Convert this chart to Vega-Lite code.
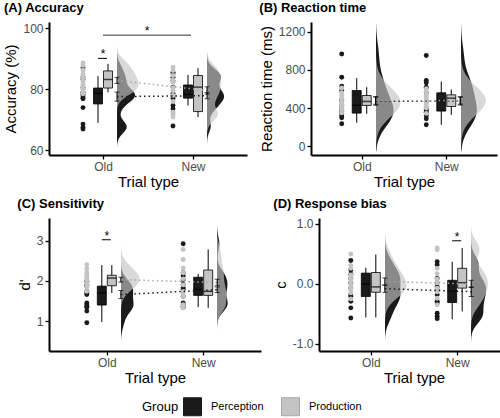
{
"$schema": "https://vega.github.io/schema/vega-lite/v6.json",
"background": "white",
"padding": {"left": 3, "top": 2, "right": 0, "bottom": 0},
"datasets": {
"pA": [
{"t":"Old","g":"Perception","v":87.0},{"t":"Old","g":"Perception","v":84.0},{"t":"Old","g":"Perception","v":83.3},{"t":"Old","g":"Perception","v":80.5},{"t":"Old","g":"Perception","v":79.0},{"t":"Old","g":"Perception","v":78.3},{"t":"Old","g":"Perception","v":77.8},{"t":"Old","g":"Perception","v":77.2},{"t":"Old","g":"Perception","v":76.9},{"t":"Old","g":"Perception","v":74.0},{"t":"Old","g":"Perception","v":68.6},{"t":"Old","g":"Perception","v":67.5},{"t":"Old","g":"Perception","v":67.0},
{"t":"Old","g":"Production","v":88.6},{"t":"Old","g":"Production","v":87.8},{"t":"Old","g":"Production","v":86.2},{"t":"Old","g":"Production","v":85.0},{"t":"Old","g":"Production","v":84.3},{"t":"Old","g":"Production","v":83.2},{"t":"Old","g":"Production","v":82.5},{"t":"Old","g":"Production","v":81.6},{"t":"Old","g":"Production","v":80.8},{"t":"Old","g":"Production","v":80.0},{"t":"Old","g":"Production","v":79.3},{"t":"Old","g":"Production","v":78.5},
{"t":"New","g":"Perception","v":85.6},{"t":"New","g":"Perception","v":85.0},{"t":"New","g":"Perception","v":83.9},{"t":"New","g":"Perception","v":82.8},{"t":"New","g":"Perception","v":80.7},{"t":"New","g":"Perception","v":78.6},{"t":"New","g":"Perception","v":78.0},{"t":"New","g":"Perception","v":77.5},{"t":"New","g":"Perception","v":76.9},{"t":"New","g":"Perception","v":74.7},{"t":"New","g":"Perception","v":73.6},{"t":"New","g":"Perception","v":68.0},
{"t":"New","g":"Production","v":87.2},{"t":"New","g":"Production","v":86.1},{"t":"New","g":"Production","v":84.5},{"t":"New","g":"Production","v":83.0},{"t":"New","g":"Production","v":82.3},{"t":"New","g":"Production","v":80.5},{"t":"New","g":"Production","v":79.5},{"t":"New","g":"Production","v":78.0},{"t":"New","g":"Production","v":76.0},{"t":"New","g":"Production","v":72.5},{"t":"New","g":"Production","v":71.8},{"t":"New","g":"Production","v":70.9}
],
"bA": [
{"t":"Old","g":"Perception","lo":69.0,"q1":75.2,"md":78.7,"q3":80.4,"hi":84.3},
{"t":"Old","g":"Production","lo":79.0,"q1":80.4,"md":83.2,"q3":86.0,"hi":88.3},
{"t":"New","g":"Perception","lo":74.7,"q1":77.1,"md":78.3,"q3":81.4,"hi":84.7},
{"t":"New","g":"Production","lo":70.9,"q1":72.7,"md":80.7,"q3":84.5,"hi":86.9}
],
"mA": [
{"t":"Old","g":"Perception","m":77.6,"lo":76.1,"hi":79.1},
{"t":"Old","g":"Production","m":82.9,"lo":81.9,"hi":83.9},
{"t":"New","g":"Perception","m":77.9,"lo":76.9,"hi":78.9},
{"t":"New","g":"Production","m":79.6,"lo":78.4,"hi":80.8}
],
"sA": [
{"k":"s","t":"Old","t2":"Old","y":90.1,"s":"*"},
{"k":"l","t":"Old","t2":"New","y":97.7,"s":"*"}
],
"pB": [
{"t":"Old","g":"Perception","v":965},{"t":"Old","g":"Perception","v":723},{"t":"Old","g":"Perception","v":630},{"t":"Old","g":"Perception","v":584},{"t":"Old","g":"Perception","v":480},{"t":"Old","g":"Perception","v":425},{"t":"Old","g":"Perception","v":392},{"t":"Old","g":"Perception","v":365},{"t":"Old","g":"Perception","v":342},{"t":"Old","g":"Perception","v":318},{"t":"Old","g":"Perception","v":300},{"t":"Old","g":"Perception","v":237},
{"t":"Old","g":"Production","v":610},{"t":"Old","g":"Production","v":560},{"t":"Old","g":"Production","v":532},{"t":"Old","g":"Production","v":500},{"t":"Old","g":"Production","v":470},{"t":"Old","g":"Production","v":455},{"t":"Old","g":"Production","v":440},{"t":"Old","g":"Production","v":425},{"t":"Old","g":"Production","v":400},{"t":"Old","g":"Production","v":380},{"t":"Old","g":"Production","v":350},
{"t":"New","g":"Perception","v":950},{"t":"New","g":"Perception","v":689},{"t":"New","g":"Perception","v":664},{"t":"New","g":"Perception","v":619},{"t":"New","g":"Perception","v":560},{"t":"New","g":"Perception","v":470},{"t":"New","g":"Perception","v":393},{"t":"New","g":"Perception","v":375},{"t":"New","g":"Perception","v":358},{"t":"New","g":"Perception","v":320},{"t":"New","g":"Perception","v":289},{"t":"New","g":"Perception","v":226},
{"t":"New","g":"Production","v":602},{"t":"New","g":"Production","v":567},{"t":"New","g":"Production","v":532},{"t":"New","g":"Production","v":510},{"t":"New","g":"Production","v":497},{"t":"New","g":"Production","v":480},{"t":"New","g":"Production","v":463},{"t":"New","g":"Production","v":440},{"t":"New","g":"Production","v":420},{"t":"New","g":"Production","v":400},{"t":"New","g":"Production","v":345}
],
"bB": [
{"t":"Old","g":"Perception","lo":247,"q1":348,"md":430,"q3":584,"hi":713},
{"t":"Old","g":"Production","lo":341,"q1":428,"md":470,"q3":532,"hi":619},
{"t":"New","g":"Perception","lo":226,"q1":369,"md":480,"q3":560,"hi":678},
{"t":"New","g":"Production","lo":330,"q1":417,"md":504,"q3":539,"hi":595}
],
"mB": [
{"t":"Old","g":"Perception","m":472,"lo":430,"hi":515},
{"t":"Old","g":"Production","m":480,"lo":440,"hi":520},
{"t":"New","g":"Perception","m":474,"lo":432,"hi":516},
{"t":"New","g":"Production","m":480,"lo":442,"hi":518}
],
"pC": [
{"t":"Old","g":"Perception","v":1.99},{"t":"Old","g":"Perception","v":1.90},{"t":"Old","g":"Perception","v":1.87},{"t":"Old","g":"Perception","v":1.74},{"t":"Old","g":"Perception","v":1.70},{"t":"Old","g":"Perception","v":1.66},{"t":"Old","g":"Perception","v":1.45},{"t":"Old","g":"Perception","v":1.41},{"t":"Old","g":"Perception","v":1.37},{"t":"Old","g":"Perception","v":1.34},{"t":"Old","g":"Perception","v":1.25},{"t":"Old","g":"Perception","v":0.96},
{"t":"Old","g":"Production","v":2.40},{"t":"Old","g":"Production","v":2.30},{"t":"Old","g":"Production","v":2.20},{"t":"Old","g":"Production","v":2.14},{"t":"Old","g":"Production","v":2.10},{"t":"Old","g":"Production","v":2.07},{"t":"Old","g":"Production","v":2.02},{"t":"Old","g":"Production","v":1.95},{"t":"Old","g":"Production","v":1.91},{"t":"Old","g":"Production","v":1.85},{"t":"Old","g":"Production","v":1.74},
{"t":"New","g":"Perception","v":2.92},{"t":"New","g":"Perception","v":2.20},{"t":"New","g":"Perception","v":2.12},{"t":"New","g":"Perception","v":2.03},{"t":"New","g":"Perception","v":1.91},{"t":"New","g":"Perception","v":1.83},{"t":"New","g":"Perception","v":1.79},{"t":"New","g":"Perception","v":1.62},{"t":"New","g":"Perception","v":1.45},{"t":"New","g":"Perception","v":1.41},{"t":"New","g":"Perception","v":1.37},{"t":"New","g":"Perception","v":1.34},
{"t":"New","g":"Production","v":2.78},{"t":"New","g":"Production","v":2.53},{"t":"New","g":"Production","v":2.32},{"t":"New","g":"Production","v":2.20},{"t":"New","g":"Production","v":2.05},{"t":"New","g":"Production","v":1.90},{"t":"New","g":"Production","v":1.74},{"t":"New","g":"Production","v":1.70},{"t":"New","g":"Production","v":1.62},{"t":"New","g":"Production","v":1.41},{"t":"New","g":"Production","v":1.37},{"t":"New","g":"Production","v":1.33}
],
"bC": [
{"t":"Old","g":"Perception","lo":0.98,"q1":1.40,"md":1.70,"q3":1.87,"hi":2.39},
{"t":"Old","g":"Production","lo":1.70,"q1":1.88,"md":2.07,"q3":2.14,"hi":2.39},
{"t":"New","g":"Perception","lo":1.35,"q1":1.64,"md":1.79,"q3":2.09,"hi":2.17},
{"t":"New","g":"Production","lo":1.33,"q1":1.64,"md":1.74,"q3":2.27,"hi":2.78}
],
"mC": [
{"t":"Old","g":"Perception","m":1.66,"lo":1.56,"hi":1.76},
{"t":"Old","g":"Production","m":2.03,"lo":1.97,"hi":2.09},
{"t":"New","g":"Perception","m":1.78,"lo":1.71,"hi":1.85},
{"t":"New","g":"Production","m":1.96,"lo":1.88,"hi":2.04}
],
"sC": [
{"k":"s","t":"Old","t2":"Old","y":3.02,"s":"*"}
],
"pD": [
{"t":"Old","g":"Perception","v":0.39},{"t":"Old","g":"Perception","v":0.23},{"t":"Old","g":"Perception","v":0.16},{"t":"Old","g":"Perception","v":0.09},{"t":"Old","g":"Perception","v":0.02},{"t":"Old","g":"Perception","v":-0.07},{"t":"Old","g":"Perception","v":-0.18},{"t":"Old","g":"Perception","v":-0.21},{"t":"Old","g":"Perception","v":-0.29},{"t":"Old","g":"Perception","v":-0.40},{"t":"Old","g":"Perception","v":-0.57},
{"t":"Old","g":"Production","v":0.50},{"t":"Old","g":"Production","v":0.31},{"t":"Old","g":"Production","v":0.26},{"t":"Old","g":"Production","v":0.15},{"t":"Old","g":"Production","v":0.09},{"t":"Old","g":"Production","v":0.04},{"t":"Old","g":"Production","v":-0.02},{"t":"Old","g":"Production","v":-0.07},{"t":"Old","g":"Production","v":-0.10},{"t":"Old","g":"Production","v":-0.15},{"t":"Old","g":"Production","v":-0.25},
{"t":"New","g":"Perception","v":0.37},{"t":"New","g":"Perception","v":0.32},{"t":"New","g":"Perception","v":0.09},{"t":"New","g":"Perception","v":0.02},{"t":"New","g":"Perception","v":-0.05},{"t":"New","g":"Perception","v":-0.10},{"t":"New","g":"Perception","v":-0.18},{"t":"New","g":"Perception","v":-0.29},{"t":"New","g":"Perception","v":-0.32},{"t":"New","g":"Perception","v":-0.49},{"t":"New","g":"Perception","v":-0.54},{"t":"New","g":"Perception","v":-0.58},
{"t":"New","g":"Production","v":0.60},{"t":"New","g":"Production","v":0.57},{"t":"New","g":"Production","v":0.26},{"t":"New","g":"Production","v":0.17},{"t":"New","g":"Production","v":0.08},{"t":"New","g":"Production","v":0.02},{"t":"New","g":"Production","v":-0.07},{"t":"New","g":"Production","v":-0.13},{"t":"New","g":"Production","v":-0.24},{"t":"New","g":"Production","v":-0.35}
],
"bD": [
{"t":"Old","g":"Perception","lo":-0.56,"q1":-0.21,"md":0.0,"q3":0.18,"hi":0.27},
{"t":"Old","g":"Production","lo":-0.56,"q1":-0.14,"md":-0.05,"q3":0.19,"hi":0.49},
{"t":"New","g":"Perception","lo":-0.59,"q1":-0.31,"md":-0.12,"q3":0.06,"hi":0.37},
{"t":"New","g":"Production","lo":-0.46,"q1":-0.07,"md":0.02,"q3":0.26,"hi":0.60}
],
"mD": [
{"t":"Old","g":"Perception","m":-0.08,"lo":-0.14,"hi":-0.02},
{"t":"Old","g":"Production","m":0.04,"lo":-0.02,"hi":0.10},
{"t":"New","g":"Perception","m":-0.13,"lo":-0.21,"hi":-0.05},
{"t":"New","g":"Production","m":0.0,"lo":-0.06,"hi":0.06}
],
"sD": [
{"k":"s","t":"New","t2":"New","y":0.72,"s":"*"}
]
},
"spacing": 8,
"vconcat": [
{"hconcat": [
{
"title": {"text": "(A) Accuracy"},
"width": 198, "height": 133,
"resolve": {"scale": {"x": "independent"}, "axis": {"x": "independent"}},
"layer": [
{
"encoding": {
"x": {"field": "d", "type": "quantitative", "scale": {"domain": [0, 0.89], "nice": false, "zero": true}, "axis": null},
"x2": {"datum": 0},
"y": {"field": "v", "type": "quantitative"},
"fill": {"field": "g", "type": "nominal"}
},
"layer": [
{"data": {"name": "pA"}, "transform": [{"filter": "datum.t=='Old' && datum.g=='Perception'"}, {"density": "v", "groupby": ["g"], "bandwidth": 2, "extent": [61, 97], "steps": 100, "as": ["v", "d"]}], "mark": {"type": "area", "orient": "horizontal", "xOffset": 68, "x2Offset": 68, "opacity": 1}},
{"data": {"name": "pA"}, "transform": [{"filter": "datum.t=='Old' && datum.g=='Production'"}, {"density": "v", "groupby": ["g"], "bandwidth": 2, "extent": [61, 97], "steps": 100, "as": ["v", "d"]}], "mark": {"type": "area", "orient": "horizontal", "xOffset": 68, "x2Offset": 68, "opacity": 0.65}},
{"data": {"name": "pA"}, "transform": [{"filter": "datum.t=='New' && datum.g=='Perception'"}, {"density": "v", "groupby": ["g"], "bandwidth": 2, "extent": [61, 97], "steps": 100, "as": ["v", "d"]}], "mark": {"type": "area", "orient": "horizontal", "xOffset": 158, "x2Offset": 158, "opacity": 1}},
{"data": {"name": "pA"}, "transform": [{"filter": "datum.t=='New' && datum.g=='Production'"}, {"density": "v", "groupby": ["g"], "bandwidth": 2, "extent": [61, 97], "steps": 100, "as": ["v", "d"]}], "mark": {"type": "area", "orient": "horizontal", "xOffset": 158, "x2Offset": 158, "opacity": 0.65}}
]
},
{
"layer": [
{"data": {"name": "pA"}, "mark": {"type": "circle", "size": 24, "xOffset": -20, "opacity": 1},
"encoding": {
"x": {"field": "t", "type": "nominal", "scale": {"type": "point", "padding": 0.6, "domain": ["Old", "New"]}, "axis": {"title": "Trial type", "labelAngle": 0}},
"y": {"field": "v", "type": "quantitative", "scale": {"domain": [58.5, 102], "nice": false, "zero": false}, "axis": {"title": "Accuracy (%)", "values": [60, 70, 80, 90, 100]}},
"fill": {"field": "g", "type": "nominal", "scale": {"domain": ["Perception", "Production"], "range": ["#1a1a1a", "#c4c4c4"]}, "legend": {"title": "Group", "orient": "none", "direction": "horizontal", "legendX": 93, "legendY": 375, "encode": {"symbols": {"update": {"stroke": {"value": "black"}, "strokeWidth": {"value": 1}, "opacity": {"value": 1}}}}}}
}},
{"data": {"name": "bA"}, "transform": [{"filter": "datum.g=='Perception'"}], "encoding": {"x": {"field": "t", "type": "nominal"}},
"layer": [
{"mark": {"type": "rule", "xOffset": -5, "color": "black", "strokeWidth": 1}, "encoding": {"y": {"field": "lo", "type": "quantitative"}, "y2": {"field": "hi"}}},
{"mark": {"type": "bar", "width": 9, "xOffset": -5, "stroke": "black", "strokeWidth": 0.8}, "encoding": {"y": {"field": "q1", "type": "quantitative"}, "y2": {"field": "q3"}, "fill": {"field": "g", "type": "nominal"}}},
{"mark": {"type": "tick", "size": 9, "thickness": 1.5, "color": "black", "xOffset": -5}, "encoding": {"y": {"field": "md", "type": "quantitative"}}}
]},
{"data": {"name": "bA"}, "transform": [{"filter": "datum.g=='Production'"}], "encoding": {"x": {"field": "t", "type": "nominal"}},
"layer": [
{"mark": {"type": "rule", "xOffset": 5, "color": "black", "strokeWidth": 1}, "encoding": {"y": {"field": "lo", "type": "quantitative"}, "y2": {"field": "hi"}}},
{"mark": {"type": "bar", "width": 9, "xOffset": 5, "stroke": "black", "strokeWidth": 0.8}, "encoding": {"y": {"field": "q1", "type": "quantitative"}, "y2": {"field": "q3"}, "fill": {"field": "g", "type": "nominal"}}},
{"mark": {"type": "tick", "size": 9, "thickness": 1.5, "color": "black", "xOffset": 5}, "encoding": {"y": {"field": "md", "type": "quantitative"}}}
]},
{"data": {"name": "mA"}, "mark": {"type": "line", "xOffset": 14, "strokeDash": [1.5, 3], "strokeWidth": 1.5}, "encoding": {"x": {"field": "t", "type": "nominal"}, "y": {"field": "m", "type": "quantitative"}, "stroke": {"field": "g", "type": "nominal", "scale": {"domain": ["Perception", "Production"], "range": ["#1a1a1a", "#a6a6a6"]}, "legend": null}}},
{"data": {"name": "mA"}, "encoding": {"x": {"field": "t", "type": "nominal"}},
"layer": [
{"mark": {"type": "rule", "xOffset": 14, "color": "black", "strokeWidth": 1}, "encoding": {"y": {"field": "lo", "type": "quantitative"}, "y2": {"field": "hi"}}},
{"mark": {"type": "tick", "xOffset": 14, "size": 5, "thickness": 1, "color": "black"}, "encoding": {"y": {"field": "lo", "type": "quantitative"}}},
{"mark": {"type": "tick", "xOffset": 14, "size": 5, "thickness": 1, "color": "black"}, "encoding": {"y": {"field": "hi", "type": "quantitative"}}}
]},
{"data": {"name": "sA"}, "transform": [{"filter": "datum.k=='s'"}], "encoding": {"x": {"field": "t", "type": "nominal"}, "y": {"field": "y", "type": "quantitative"}},
"layer": [
{"mark": {"type": "rule", "xOffset": -5, "x2Offset": 4, "color": "black", "strokeWidth": 1}, "encoding": {"x2": {"field": "t2"}}},
{"mark": {"type": "text", "baseline": "middle", "dy": -4, "fontSize": 12, "color": "black"}, "encoding": {"text": {"field": "s"}}}
]},
{"data": {"name": "sA"}, "transform": [{"filter": "datum.k=='l'"}], "encoding": {"x": {"field": "t", "type": "nominal"}, "y": {"field": "y", "type": "quantitative"}},
"layer": [
{"mark": {"type": "rule", "xOffset": 0, "x2Offset": -2, "color": "#333333", "strokeWidth": 1}, "encoding": {"x2": {"field": "t2"}}},
{"mark": {"type": "text", "baseline": "middle", "dx": 44, "dy": -4, "fontSize": 12, "color": "black"}, "encoding": {"text": {"field": "s"}}}
]}
]
}
]
},
{
"title": {"text": "(B) Reaction time"},
"width": 186, "height": 133,
"resolve": {"scale": {"x": "independent"}, "axis": {"x": "independent"}},
"layer": [
{
"encoding": {
"x": {"field": "d", "type": "quantitative", "scale": {"domain": [0, 0.02], "nice": false, "zero": true}, "axis": null},
"x2": {"datum": 0},
"y": {"field": "v", "type": "quantitative"},
"fill": {"field": "g", "type": "nominal"}
},
"layer": [
{"data": {"name": "pB"}, "transform": [{"filter": "datum.t=='Old' && datum.g=='Perception'"}, {"density": "v", "groupby": ["g"], "bandwidth": 130, "extent": [-50, 1280], "steps": 100, "as": ["v", "d"]}], "mark": {"type": "area", "orient": "horizontal", "xOffset": 65, "x2Offset": 65, "opacity": 1}},
{"data": {"name": "pB"}, "transform": [{"filter": "datum.t=='Old' && datum.g=='Production'"}, {"density": "v", "groupby": ["g"], "bandwidth": 130, "extent": [-50, 1280], "steps": 100, "as": ["v", "d"]}], "mark": {"type": "area", "orient": "horizontal", "xOffset": 65, "x2Offset": 65, "opacity": 0.65}},
{"data": {"name": "pB"}, "transform": [{"filter": "datum.t=='New' && datum.g=='Perception'"}, {"density": "v", "groupby": ["g"], "bandwidth": 130, "extent": [-50, 1280], "steps": 100, "as": ["v", "d"]}], "mark": {"type": "area", "orient": "horizontal", "xOffset": 150, "x2Offset": 150, "opacity": 1}},
{"data": {"name": "pB"}, "transform": [{"filter": "datum.t=='New' && datum.g=='Production'"}, {"density": "v", "groupby": ["g"], "bandwidth": 130, "extent": [-50, 1280], "steps": 100, "as": ["v", "d"]}], "mark": {"type": "area", "orient": "horizontal", "xOffset": 150, "x2Offset": 150, "opacity": 0.65}}
]
},
{
"layer": [
{"data": {"name": "pB"}, "mark": {"type": "circle", "size": 24, "xOffset": -20, "opacity": 1},
"encoding": {
"x": {"field": "t", "type": "nominal", "scale": {"type": "point", "padding": 0.6, "domain": ["Old", "New"]}, "axis": {"title": "Trial type", "labelAngle": 0}},
"y": {"field": "v", "type": "quantitative", "scale": {"domain": [-90, 1300], "nice": false, "zero": false}, "axis": {"title": "Reaction time (ms)", "values": [0, 400, 800, 1200], "format": "d"}},
"fill": {"field": "g", "type": "nominal"}
}},
{"data": {"name": "bB"}, "transform": [{"filter": "datum.g=='Perception'"}], "encoding": {"x": {"field": "t", "type": "nominal"}},
"layer": [
{"mark": {"type": "rule", "xOffset": -5, "color": "black", "strokeWidth": 1}, "encoding": {"y": {"field": "lo", "type": "quantitative"}, "y2": {"field": "hi"}}},
{"mark": {"type": "bar", "width": 9, "xOffset": -5, "stroke": "black", "strokeWidth": 0.8}, "encoding": {"y": {"field": "q1", "type": "quantitative"}, "y2": {"field": "q3"}, "fill": {"field": "g", "type": "nominal"}}},
{"mark": {"type": "tick", "size": 9, "thickness": 1.5, "color": "black", "xOffset": -5}, "encoding": {"y": {"field": "md", "type": "quantitative"}}}
]},
{"data": {"name": "bB"}, "transform": [{"filter": "datum.g=='Production'"}], "encoding": {"x": {"field": "t", "type": "nominal"}},
"layer": [
{"mark": {"type": "rule", "xOffset": 5, "color": "black", "strokeWidth": 1}, "encoding": {"y": {"field": "lo", "type": "quantitative"}, "y2": {"field": "hi"}}},
{"mark": {"type": "bar", "width": 9, "xOffset": 5, "stroke": "black", "strokeWidth": 0.8}, "encoding": {"y": {"field": "q1", "type": "quantitative"}, "y2": {"field": "q3"}, "fill": {"field": "g", "type": "nominal"}}},
{"mark": {"type": "tick", "size": 9, "thickness": 1.5, "color": "black", "xOffset": 5}, "encoding": {"y": {"field": "md", "type": "quantitative"}}}
]},
{"data": {"name": "mB"}, "mark": {"type": "line", "xOffset": 14, "strokeDash": [1.5, 3], "strokeWidth": 1.5}, "encoding": {"x": {"field": "t", "type": "nominal"}, "y": {"field": "m", "type": "quantitative"}, "stroke": {"field": "g", "type": "nominal", "legend": null}}},
{"data": {"name": "mB"}, "encoding": {"x": {"field": "t", "type": "nominal"}},
"layer": [
{"mark": {"type": "rule", "xOffset": 14, "color": "black", "strokeWidth": 1}, "encoding": {"y": {"field": "lo", "type": "quantitative"}, "y2": {"field": "hi"}}},
{"mark": {"type": "tick", "xOffset": 14, "size": 5, "thickness": 1, "color": "black"}, "encoding": {"y": {"field": "lo", "type": "quantitative"}}},
{"mark": {"type": "tick", "xOffset": 14, "size": 5, "thickness": 1, "color": "black"}, "encoding": {"y": {"field": "hi", "type": "quantitative"}}}
]}
]
}
]
}
], "spacing": 12},
{"hconcat": [
{
"title": {"text": "(C) Sensitivity"},
"width": 212, "height": 133,
"resolve": {"scale": {"x": "independent"}, "axis": {"x": "independent"}},
"layer": [
{
"encoding": {
"x": {"field": "d", "type": "quantitative", "scale": {"domain": [0, 17.6], "nice": false, "zero": true}, "axis": null},
"x2": {"datum": 0},
"y": {"field": "v", "type": "quantitative"},
"fill": {"field": "g", "type": "nominal"}
},
"layer": [
{"data": {"name": "pC"}, "transform": [{"filter": "datum.t=='Old' && datum.g=='Perception'"}, {"density": "v", "groupby": ["g"], "bandwidth": 0.17, "extent": [0.45, 3.4], "steps": 100, "as": ["v", "d"]}], "mark": {"type": "area", "orient": "horizontal", "xOffset": 72, "x2Offset": 72, "opacity": 1}},
{"data": {"name": "pC"}, "transform": [{"filter": "datum.t=='Old' && datum.g=='Production'"}, {"density": "v", "groupby": ["g"], "bandwidth": 0.17, "extent": [0.45, 3.4], "steps": 100, "as": ["v", "d"]}], "mark": {"type": "area", "orient": "horizontal", "xOffset": 72, "x2Offset": 72, "opacity": 0.65}},
{"data": {"name": "pC"}, "transform": [{"filter": "datum.t=='New' && datum.g=='Perception'"}, {"density": "v", "groupby": ["g"], "bandwidth": 0.17, "extent": [0.45, 3.4], "steps": 100, "as": ["v", "d"]}], "mark": {"type": "area", "orient": "horizontal", "xOffset": 168, "x2Offset": 168, "opacity": 1}},
{"data": {"name": "pC"}, "transform": [{"filter": "datum.t=='New' && datum.g=='Production'"}, {"density": "v", "groupby": ["g"], "bandwidth": 0.17, "extent": [0.45, 3.4], "steps": 100, "as": ["v", "d"]}], "mark": {"type": "area", "orient": "horizontal", "xOffset": 168, "x2Offset": 168, "opacity": 0.65}}
]
},
{
"layer": [
{"data": {"name": "pC"}, "mark": {"type": "circle", "size": 24, "xOffset": -20, "opacity": 1},
"encoding": {
"x": {"field": "t", "type": "nominal", "scale": {"type": "point", "padding": 0.6, "domain": ["Old", "New"]}, "axis": {"title": "Trial type", "labelAngle": 0}},
"y": {"field": "v", "type": "quantitative", "scale": {"domain": [0.26, 3.56], "nice": false, "zero": false}, "axis": {"title": "d'", "values": [1, 2, 3]}},
"fill": {"field": "g", "type": "nominal"}
}},
{"data": {"name": "bC"}, "transform": [{"filter": "datum.g=='Perception'"}], "encoding": {"x": {"field": "t", "type": "nominal"}},
"layer": [
{"mark": {"type": "rule", "xOffset": -5, "color": "black", "strokeWidth": 1}, "encoding": {"y": {"field": "lo", "type": "quantitative"}, "y2": {"field": "hi"}}},
{"mark": {"type": "bar", "width": 9, "xOffset": -5, "stroke": "black", "strokeWidth": 0.8}, "encoding": {"y": {"field": "q1", "type": "quantitative"}, "y2": {"field": "q3"}, "fill": {"field": "g", "type": "nominal"}}},
{"mark": {"type": "tick", "size": 9, "thickness": 1.5, "color": "black", "xOffset": -5}, "encoding": {"y": {"field": "md", "type": "quantitative"}}}
]},
{"data": {"name": "bC"}, "transform": [{"filter": "datum.g=='Production'"}], "encoding": {"x": {"field": "t", "type": "nominal"}},
"layer": [
{"mark": {"type": "rule", "xOffset": 5, "color": "black", "strokeWidth": 1}, "encoding": {"y": {"field": "lo", "type": "quantitative"}, "y2": {"field": "hi"}}},
{"mark": {"type": "bar", "width": 9, "xOffset": 5, "stroke": "black", "strokeWidth": 0.8}, "encoding": {"y": {"field": "q1", "type": "quantitative"}, "y2": {"field": "q3"}, "fill": {"field": "g", "type": "nominal"}}},
{"mark": {"type": "tick", "size": 9, "thickness": 1.5, "color": "black", "xOffset": 5}, "encoding": {"y": {"field": "md", "type": "quantitative"}}}
]},
{"data": {"name": "mC"}, "mark": {"type": "line", "xOffset": 14, "strokeDash": [1.5, 3], "strokeWidth": 1.5}, "encoding": {"x": {"field": "t", "type": "nominal"}, "y": {"field": "m", "type": "quantitative"}, "stroke": {"field": "g", "type": "nominal", "legend": null}}},
{"data": {"name": "mC"}, "encoding": {"x": {"field": "t", "type": "nominal"}},
"layer": [
{"mark": {"type": "rule", "xOffset": 14, "color": "black", "strokeWidth": 1}, "encoding": {"y": {"field": "lo", "type": "quantitative"}, "y2": {"field": "hi"}}},
{"mark": {"type": "tick", "xOffset": 14, "size": 5, "thickness": 1, "color": "black"}, "encoding": {"y": {"field": "lo", "type": "quantitative"}}},
{"mark": {"type": "tick", "xOffset": 14, "size": 5, "thickness": 1, "color": "black"}, "encoding": {"y": {"field": "hi", "type": "quantitative"}}}
]},
{"data": {"name": "sC"}, "encoding": {"x": {"field": "t", "type": "nominal"}, "y": {"field": "y", "type": "quantitative"}},
"layer": [
{"mark": {"type": "rule", "xOffset": -5, "x2Offset": 4, "color": "black", "strokeWidth": 1}, "encoding": {"x2": {"field": "t2"}}},
{"mark": {"type": "text", "baseline": "middle", "dy": -4, "fontSize": 12, "color": "black"}, "encoding": {"text": {"field": "s"}}}
]}
]
}
]
},
{
"title": {"text": "(D) Response bias"},
"width": 190, "height": 133,
"resolve": {"scale": {"x": "independent"}, "axis": {"x": "independent"}},
"layer": [
{
"encoding": {
"x": {"field": "d", "type": "quantitative", "scale": {"domain": [0, 14], "nice": false, "zero": true}, "axis": null},
"x2": {"datum": 0},
"y": {"field": "v", "type": "quantitative"},
"fill": {"field": "g", "type": "nominal"}
},
"layer": [
{"data": {"name": "pD"}, "transform": [{"filter": "datum.t=='Old' && datum.g=='Perception'"}, {"density": "v", "groupby": ["g"], "bandwidth": 0.13, "extent": [-1.0, 1.0], "steps": 100, "as": ["v", "d"]}], "mark": {"type": "area", "orient": "horizontal", "xOffset": 66, "x2Offset": 66, "opacity": 1}},
{"data": {"name": "pD"}, "transform": [{"filter": "datum.t=='Old' && datum.g=='Production'"}, {"density": "v", "groupby": ["g"], "bandwidth": 0.13, "extent": [-1.0, 1.0], "steps": 100, "as": ["v", "d"]}], "mark": {"type": "area", "orient": "horizontal", "xOffset": 66, "x2Offset": 66, "opacity": 0.65}},
{"data": {"name": "pD"}, "transform": [{"filter": "datum.t=='New' && datum.g=='Perception'"}, {"density": "v", "groupby": ["g"], "bandwidth": 0.13, "extent": [-1.0, 1.0], "steps": 100, "as": ["v", "d"]}], "mark": {"type": "area", "orient": "horizontal", "xOffset": 152, "x2Offset": 152, "opacity": 1}},
{"data": {"name": "pD"}, "transform": [{"filter": "datum.t=='New' && datum.g=='Production'"}, {"density": "v", "groupby": ["g"], "bandwidth": 0.13, "extent": [-1.0, 1.0], "steps": 100, "as": ["v", "d"]}], "mark": {"type": "area", "orient": "horizontal", "xOffset": 152, "x2Offset": 152, "opacity": 0.65}}
]
},
{
"layer": [
{"data": {"name": "pD"}, "mark": {"type": "circle", "size": 24, "xOffset": -20, "opacity": 1},
"encoding": {
"x": {"field": "t", "type": "nominal", "scale": {"type": "point", "padding": 0.6, "domain": ["Old", "New"]}, "axis": {"title": "Trial type", "labelAngle": 0}},
"y": {"field": "v", "type": "quantitative", "scale": {"domain": [-1.12, 1.1], "nice": false, "zero": false}, "axis": {"title": "c", "values": [-1, -0.5, 0, 0.5, 1], "labelExpr": "replace(format(datum.value, '.1f'), '\u2212', '-')"}},
"fill": {"field": "g", "type": "nominal"}
}},
{"data": {"name": "bD"}, "transform": [{"filter": "datum.g=='Perception'"}], "encoding": {"x": {"field": "t", "type": "nominal"}},
"layer": [
{"mark": {"type": "rule", "xOffset": -5, "color": "black", "strokeWidth": 1}, "encoding": {"y": {"field": "lo", "type": "quantitative"}, "y2": {"field": "hi"}}},
{"mark": {"type": "bar", "width": 9, "xOffset": -5, "stroke": "black", "strokeWidth": 0.8}, "encoding": {"y": {"field": "q1", "type": "quantitative"}, "y2": {"field": "q3"}, "fill": {"field": "g", "type": "nominal"}}},
{"mark": {"type": "tick", "size": 9, "thickness": 1.5, "color": "black", "xOffset": -5}, "encoding": {"y": {"field": "md", "type": "quantitative"}}}
]},
{"data": {"name": "bD"}, "transform": [{"filter": "datum.g=='Production'"}], "encoding": {"x": {"field": "t", "type": "nominal"}},
"layer": [
{"mark": {"type": "rule", "xOffset": 5, "color": "black", "strokeWidth": 1}, "encoding": {"y": {"field": "lo", "type": "quantitative"}, "y2": {"field": "hi"}}},
{"mark": {"type": "bar", "width": 9, "xOffset": 5, "stroke": "black", "strokeWidth": 0.8}, "encoding": {"y": {"field": "q1", "type": "quantitative"}, "y2": {"field": "q3"}, "fill": {"field": "g", "type": "nominal"}}},
{"mark": {"type": "tick", "size": 9, "thickness": 1.5, "color": "black", "xOffset": 5}, "encoding": {"y": {"field": "md", "type": "quantitative"}}}
]},
{"data": {"name": "mD"}, "mark": {"type": "line", "xOffset": 14, "strokeDash": [1.5, 3], "strokeWidth": 1.5}, "encoding": {"x": {"field": "t", "type": "nominal"}, "y": {"field": "m", "type": "quantitative"}, "stroke": {"field": "g", "type": "nominal", "legend": null}}},
{"data": {"name": "mD"}, "encoding": {"x": {"field": "t", "type": "nominal"}},
"layer": [
{"mark": {"type": "rule", "xOffset": 14, "color": "black", "strokeWidth": 1}, "encoding": {"y": {"field": "lo", "type": "quantitative"}, "y2": {"field": "hi"}}},
{"mark": {"type": "tick", "xOffset": 14, "size": 5, "thickness": 1, "color": "black"}, "encoding": {"y": {"field": "lo", "type": "quantitative"}}},
{"mark": {"type": "tick", "xOffset": 14, "size": 5, "thickness": 1, "color": "black"}, "encoding": {"y": {"field": "hi", "type": "quantitative"}}}
]},
{"data": {"name": "sD"}, "encoding": {"x": {"field": "t", "type": "nominal"}, "y": {"field": "y", "type": "quantitative"}},
"layer": [
{"mark": {"type": "rule", "xOffset": -5, "x2Offset": 4, "color": "black", "strokeWidth": 1}, "encoding": {"x2": {"field": "t2"}}},
{"mark": {"type": "text", "baseline": "middle", "dy": -4, "fontSize": 12, "color": "black"}, "encoding": {"text": {"field": "s"}}}
]}
]
}
]
}
], "spacing": 12}
],
"config": {
"font": "Liberation Sans",
"view": {"stroke": null},
"axis": {"grid": false, "domainColor": "black", "domainWidth": 2, "tickColor": "black", "tickWidth": 1.3, "tickSize": 4, "labelColor": "#4d4d4d", "labelFontSize": 12, "labelPadding": 2, "titleFontSize": 15, "titleFontWeight": "normal", "titleColor": "black"},
"axisY": {"titlePadding": 4},
"axisX": {"titlePadding": 2},
"title": {"fontSize": 13, "fontWeight": "bold", "anchor": "start", "frame": "bounds", "offset": 7, "color": "black"},
"legend": {"titleOrient": "left", "titleFontSize": 13, "titleFontWeight": "normal", "titleColor": "black", "labelFontSize": 11, "labelColor": "black", "symbolType": "square", "symbolSize": 324, "symbolStrokeColor": "black", "symbolStrokeWidth": 1, "symbolOpacity": 1, "columnPadding": 15, "labelOffset": 9, "titlePadding": 4}
}
}
